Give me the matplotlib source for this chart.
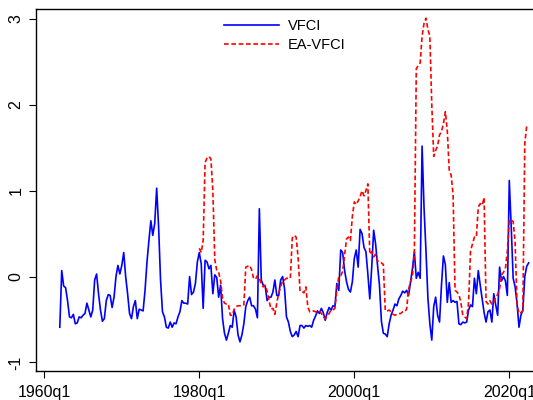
import numpy as np
import matplotlib
matplotlib.use("Agg")
import matplotlib.pyplot as plt

plt.rcParams['font.family'] = ['Liberation Sans', 'DejaVu Sans']

# VFCI, quarterly from 1962q1 to 2022q3
vfci = [
    -0.59, 0.07, -0.11, -0.13, -0.28, -0.47, -0.48, -0.44, -0.55, -0.54,
    -0.47, -0.48, -0.45, -0.43, -0.31, -0.39, -0.47, -0.39, -0.04, 0.03,
    -0.20, -0.39, -0.52, -0.49, -0.28, -0.21, -0.22, -0.36, -0.24, 0.00,
    0.13, 0.03, 0.13, 0.28, 0.00, -0.20, -0.43, -0.49, -0.35, -0.28,
    -0.49, -0.38, -0.39, -0.40, -0.16, 0.17, 0.42, 0.65, 0.48, 0.62,
    1.03, 0.58, -0.04, -0.41, -0.47, -0.59, -0.60, -0.53, -0.59, -0.54,
    -0.55, -0.47, -0.41, -0.28, -0.31, -0.31, -0.32, 0.00, -0.21, -0.18,
    -0.08, 0.17, 0.28, 0.15, -0.37, 0.19, 0.17, 0.09, 0.13, -0.20,
    0.02, -0.01, -0.24, -0.10, -0.49, -0.66, -0.74, -0.66, -0.57, -0.59,
    -0.39, -0.47, -0.68, -0.76, -0.68, -0.55, -0.35, -0.28, -0.24, -0.34,
    -0.34, -0.38, -0.48, 0.79, -0.04, -0.10, -0.11, -0.28, -0.24,
    # 1989q2 -
    -0.24, -0.18, -0.04, -0.22, -0.22, -0.04, 0.00, -0.14, -0.47, -0.53,
    -0.64, -0.70, -0.68, -0.64, -0.70, -0.57, -0.57, -0.60, -0.57, -0.58,
    -0.57, -0.59, -0.51, -0.46, -0.40, -0.43, -0.37, -0.42, -0.51, -0.42,
    -0.36, -0.39, -0.34, -0.35, -0.08, -0.16, 0.31, 0.28, 0.07, -0.06,
    -0.15, -0.18, -0.06, 0.21, 0.31, 0.11, 0.55, 0.50, 0.34, 0.29,
    0.03, -0.26, 0.11, 0.54, 0.38, 0.13, -0.10,
    # 2003q3 -
    -0.52, -0.66, -0.67, -0.70, -0.55, -0.45, -0.39, -0.32, -0.34, -0.26,
    -0.22, -0.17, -0.19, -0.16, -0.22, -0.07, 0.09, 0.29, -0.02, 0.05,
    -0.02, 1.52, 0.80, 0.30, -0.25, -0.55, -0.74, -0.35, -0.24, -0.45,
    -0.53, -0.10, 0.24, 0.14, -0.30, -0.07, -0.30, -0.28, -0.30, -0.29,
    # 2013q3 -
    -0.55, -0.56, -0.53, -0.54, -0.53, -0.39, -0.33, -0.35, -0.02, -0.20,
    0.07, -0.10, -0.26, -0.42, -0.53, -0.41, -0.39, -0.53, -0.20, -0.33,
    -0.45, 0.11, -0.05, 0.00, -0.05, -0.22, 1.12, 0.58, -0.02, -0.12,
    -0.31, -0.59, -0.45, -0.39, 0.00, 0.12, 0.16,
]

# EA-VFCI, quarterly from 1980q1 to 2022q2
ea_vfci = [
    0.33, 0.28, 0.42, 1.33, 1.38, 1.40, 1.37, 1.00, 0.20, 0.07,
    0.05, -0.05, -0.25, -0.31, -0.32, -0.32, -0.45, -0.45, -0.38, -0.35,
    -0.34, -0.34, -0.34, -0.33, 0.11, 0.12, 0.13, 0.08, -0.02, -0.03,
    0.01, -0.02, -0.09, -0.12, -0.10, -0.17, -0.28, -0.38, -0.37, -0.44,
    -0.31, -0.19, -0.12, -0.05, -0.04, -0.02, -0.02, -0.02, 0.45, 0.48,
    0.46, 0.22, -0.17, -0.17, -0.19, -0.12, -0.35, -0.41, -0.41, -0.40,
    -0.41, -0.41, -0.40, -0.43, -0.47, -0.49, -0.46, -0.43, -0.39, -0.39,
    -0.37, -0.15, 0.00, 0.01, 0.06, 0.25, 0.44, 0.46, 0.42, 0.70,
    0.87, 0.84, 0.88, 0.93, 1.00, 0.94, 1.00, 1.08, 0.26, 0.29,
    0.23, 0.26, 0.18, 0.18, 0.16, 0.14, -0.40, -0.40, -0.39, -0.41,
    -0.44, -0.45, -0.44, -0.43, -0.43, -0.41, -0.41, -0.38, -0.15, -0.06,
    0.00, 0.25, 2.42, 2.46, 2.49, 2.80, 2.95, 3.01, 2.88, 2.80,
    2.00, 1.40, 1.47, 1.52, 1.65, 1.69, 1.78, 1.92, 1.70, 1.24,
    1.18, 0.95, -0.16, -0.18, -0.21, -0.30, -0.45, -0.47, -0.49, -0.30,
    0.30, 0.38, 0.46, 0.46, 0.81, 0.85, 0.83, 0.92, -0.29, -0.32,
    -0.28, -0.32, -0.31, -0.23, -0.21, -0.14, 0.02, 0.05, 0.09, 0.30,
    0.66, 0.66, 0.64, 0.40, -0.33, -0.43, -0.42, -0.40, 1.55, 1.76,
]

vfci_start = 1962.0
ea_start = 1980.0
xticks = [1960, 1980, 2000, 2020]
xtick_labels = ["1960q1", "1980q1", "2000q1", "2020q1"]
yticks = [-1, 0, 1, 2, 3]

t_vfci = vfci_start + 0.25 * np.arange(len(vfci))
t_ea = ea_start + 0.25 * np.arange(len(ea_vfci))

fig = plt.figure(figsize=(5.33, 4.0), dpi=100)
ax = fig.add_axes([36 / 533, 1 - 371 / 400, 1 - 36 / 533, (371 - 9) / 400])

ax.plot(t_vfci, vfci, color="#0000ff", lw=1.2, label="VFCI")
ax.plot(t_ea, ea_vfci, color="#ff0000", lw=1.2, dashes=(2.8, 1.6), label="EA-VFCI")

ax.set_xlim(1958.93, 2023.06)
ax.set_ylim(-1.10, 3.117)
ax.set_xticks(xticks)
ax.set_xticklabels(xtick_labels)
ax.set_yticks(yticks)
ax.set_yticklabels([str(v) for v in yticks], rotation=90, va="center")
ax.tick_params(direction="out", length=5, width=0.8, labelsize=11.5, colors="black")
ax.tick_params(axis="x", pad=5)
ax.tick_params(axis="y", pad=4)
ax.spines["right"].set_visible(False)
for s in ["left", "top", "bottom"]:
    ax.spines[s].set_linewidth(1.0)

ax.legend(loc="upper left", bbox_to_anchor=(224 / 533, 1 - 19 / 400),
          bbox_transform=fig.transFigure, frameon=False, fontsize=10.5,
          handlelength=3.8, handletextpad=0.6, labelspacing=0.35, borderpad=0,
          borderaxespad=0)

fig.savefig("out.png", dpi=100)
